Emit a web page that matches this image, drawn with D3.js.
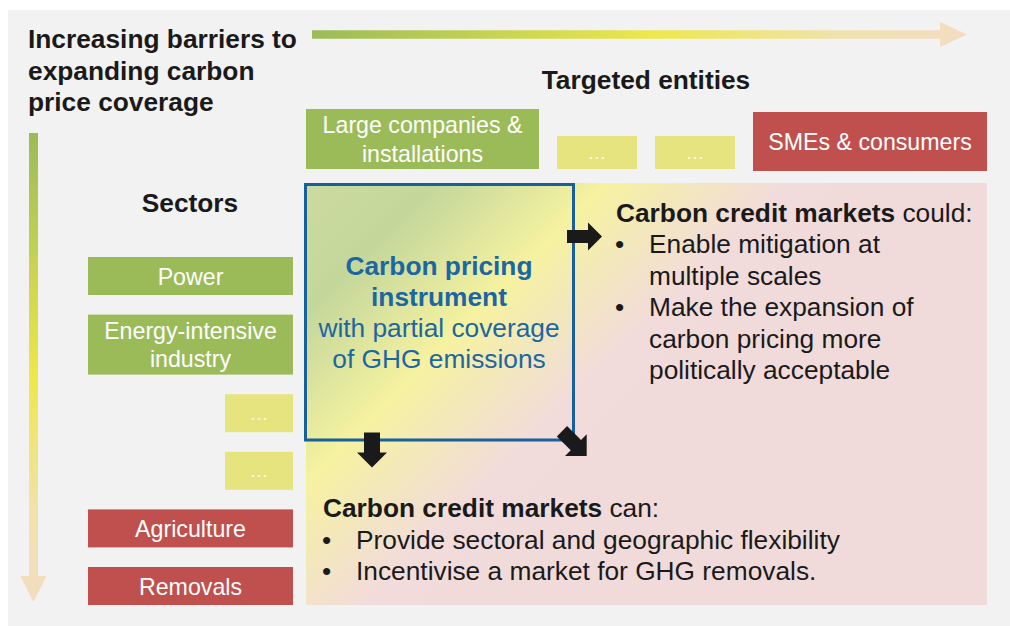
<!DOCTYPE html>
<html>
<head>
<meta charset="utf-8">
<script src="https://cdn.jsdelivr.net/npm/d3@7"></script>
<style>
  html, body { margin: 0; padding: 0; background: #ffffff; }
  svg { display: block; font-family: "Liberation Sans", Arial, sans-serif; }
</style>
</head>
<body>
<svg id="diagram"></svg>
<script>
// Texts and categories of the diagram
const titleLines = ["Increasing barriers to", "expanding carbon", "price coverage"];
const entitiesTitle = "Targeted entities";
const sectorsTitle = "Sectors";

const tiers = ["covered", "middle", "hard"];

const entities = [
    {label: ["Large companies &", "installations"], tier: "covered"},
    {label: ["\u2026"], tier: "middle"},
    {label: ["\u2026"], tier: "middle"},
    {label: ["SMEs & consumers"], tier: "hard"}
];

const sectors = [
    {label: ["Power"], tier: "covered"},
    {label: ["Energy-intensive", "industry"], tier: "covered"},
    {label: ["\u2026"], tier: "middle"},
    {label: ["\u2026"], tier: "middle"},
    {label: ["Agriculture"], tier: "hard"},
    {label: ["Removals"], tier: "hard"}
];

const instrumentLines = [
    {text: "Carbon pricing", bold: true},
    {text: "instrument", bold: true},
    {text: "with partial coverage", bold: false},
    {text: "of GHG emissions", bold: false}
];

const couldHead = ["Carbon credit markets", " could:"];
const couldBullets = [
    ["Enable mitigation at", "multiple scales"],
    ["Make the expansion of", "carbon pricing more", "politically acceptable"]
];

const canHead = ["Carbon credit markets", " can:"];
const canBullets = [
    ["Provide sectoral and geographic flexibility"],
    ["Incentivise a market for GHG removals."]
];

// ------------------------------------------------------------
const W = 1010, H = 626;
const dark = "#1a1a1a";
const blue = "#1c67a2";
const fs = 26.3;

const svg = d3.select("#diagram").attr("width", W).attr("height", H);

const tierColor = d3.scaleOrdinal().domain(tiers).range(["#9bbb59", "#e6e47e", "#c0504d"]);
const labelColor = d3.scaleOrdinal().domain(tiers).range(["#ffffff", "#fbfbe8", "#ffffff"]);

const defs = svg.append("defs");

function gradient(id, attrs, stops) {
    const g = defs.append("linearGradient").attr("id", id);
    Object.entries(attrs).forEach(([k, v]) => g.attr(k, v));
    stops.forEach(([o, c]) => g.append("stop").attr("offset", o).attr("stop-color", c));
}

// arrows are drawn along +x and rotated, so one bounding-box gradient serves both
gradient("agrad", {x1: 0, y1: 0, x2: 1, y2: 0},
    [[0, "#9bbb59"], [0.52, "#ede84c"], [0.8, "#f0e2ab"], [1, "#f3dcc3"]]);
gradient("panel", {gradientUnits: "userSpaceOnUse", x1: 306, y1: 183, x2: 606, y2: 483},
    [[0, "#ccdb9f"], [0.22, "#c4d79b"], [0.5, "#f6f2a0"], [0.66, "#f2e6c0"], [0.8, "#f2dcdb"], [1, "#f1dbda"]]);

// background panel
svg.append("rect").attr("x", 8).attr("y", 10).attr("width", W - 8).attr("height", H - 10)
    .attr("fill", "#f2f2f2");

// block arrow pointing along +x, tip at origin
function blockArrow(len, shaftW, headL, headW) {
    const p = d3.path();
    p.moveTo(-len, -shaftW / 2);
    p.lineTo(-headL, -shaftW / 2);
    p.lineTo(-headL, -headW / 2);
    p.lineTo(0, 0);
    p.lineTo(-headL, headW / 2);
    p.lineTo(-headL, shaftW / 2);
    p.lineTo(-len, shaftW / 2);
    p.closePath();
    return p.toString();
}

// big gradient arrows
svg.append("path").attr("d", blockArrow(967 - 312, 8.5, 27, 25))
    .attr("transform", "translate(967,34.5)").attr("fill", "url(#agrad)");
svg.append("path").attr("d", blockArrow(602 - 133, 9, 26, 26))
    .attr("transform", "translate(33.5,602) rotate(90)").attr("fill", "url(#agrad)");

// title
svg.append("g").selectAll("text").data(titleLines).join("text")
    .attr("x", 28).attr("y", (d, i) => 48 + i * 31.5)
    .attr("font-size", fs).attr("font-weight", "bold").attr("fill", dark)
    .text(d => d);

svg.append("text").attr("x", 646).attr("y", 89).attr("text-anchor", "middle")
    .attr("font-size", fs).attr("font-weight", "bold").attr("fill", dark).text(entitiesTitle);
svg.append("text").attr("x", 190).attr("y", 212).attr("text-anchor", "middle")
    .attr("font-size", fs).attr("font-weight", "bold").attr("fill", dark).text(sectorsTitle);

// box sizes per tier
const entityWidth = d3.scaleOrdinal().domain(tiers).range([233, 80, 234]);
const entityTop = d3.scaleOrdinal().domain(tiers).range([109, 136, 112]);
const entityBottom = d3.scaleOrdinal().domain(tiers).range([169, 169, 171]);
const sectorWidth = d3.scaleOrdinal().domain(tiers).range([205, 68, 205]);
const boxGap = 18;

let ex = 306;
const entityBoxes = entities.map(d => {
    const b = {...d, x: ex, w: entityWidth(d.tier), y: entityTop(d.tier)};
    b.h = entityBottom(d.tier) - b.y;
    ex += b.w + boxGap;
    return b;
});

let sy = 257;
const sectorBoxes = sectors.map(d => {
    const h = d.label.length > 1 ? 60 : 38;
    const b = {...d, x: 293 - sectorWidth(d.tier), w: sectorWidth(d.tier), y: sy, h: h};
    sy += h + 19.6;
    return b;
});

function drawBoxes(boxes) {
    const g = svg.append("g").selectAll("g").data(boxes).join("g");
    g.append("rect")
        .attr("x", d => d.x).attr("y", d => d.y)
        .attr("width", d => d.w).attr("height", d => d.h)
        .attr("fill", d => tierColor(d.tier));
    g.each(function(d) {
        const cy = d.y + d.h / 2;
        const dots = d.tier === "middle";
        d3.select(this).selectAll("text").data(d.label).join("text")
            .attr("x", d.x + d.w / 2)
            .attr("y", (t, i) => dots ? cy + 6.5 : cy + 8.5 + (i - (d.label.length - 1) / 2) * 28.5)
            .attr("text-anchor", "middle")
            .attr("font-size", dots ? 19 : 23.2)
            .attr("fill", labelColor(d.tier))
            .text(t => t);
    });
}
drawBoxes(entityBoxes);
drawBoxes(sectorBoxes);

// gradient area and instrument box
svg.append("rect").attr("x", 306).attr("y", 183).attr("width", 987 - 306).attr("height", 605 - 183)
    .attr("fill", "url(#panel)");
svg.append("rect").attr("x", 305.5).attr("y", 184.5).attr("width", 268).attr("height", 255.5)
    .attr("fill", "none").attr("stroke", "#17609c").attr("stroke-width", 3);

svg.append("g").selectAll("text").data(instrumentLines).join("text")
    .attr("x", 439).attr("y", (d, i) => 275 + i * 31)
    .attr("text-anchor", "middle")
    .attr("font-size", fs).attr("font-weight", d => d.bold ? "bold" : "normal")
    .attr("fill", blue).text(d => d.text);

// small black arrows out of the instrument
svg.append("path").attr("d", blockArrow(35, 13, 14, 28))
    .attr("transform", "translate(602,236.5)").attr("fill", dark);
svg.append("path").attr("d", blockArrow(35, 16, 15, 30))
    .attr("transform", "translate(372,467.5) rotate(90)").attr("fill", dark);
svg.append("path").attr("d", blockArrow(35, 14.5, 15.3, 30.7))
    .attr("transform", "translate(586.7,456) rotate(45)").attr("fill", dark);

// text blocks with bullets
function textBlock(x, y0, bulletX, textX, head, bullets, lineH) {
    const g = svg.append("g").attr("font-size", fs).attr("fill", dark);
    const h = g.append("text").attr("x", x).attr("y", y0);
    h.append("tspan").attr("font-weight", "bold").text(head[0]);
    h.append("tspan").text(head[1]);
    let y = y0;
    bullets.forEach(lines => {
        lines.forEach((line, i) => {
            y += lineH;
            if (i === 0) g.append("text").attr("x", bulletX).attr("y", y).text("\u2022");
            g.append("text").attr("x", textX).attr("y", y).text(line);
        });
    });
}
textBlock(616, 222, 615, 649, couldHead, couldBullets, 31.4);
textBlock(323, 517, 322, 356, canHead, canBullets, 31.5);
</script>
</body>
</html>
